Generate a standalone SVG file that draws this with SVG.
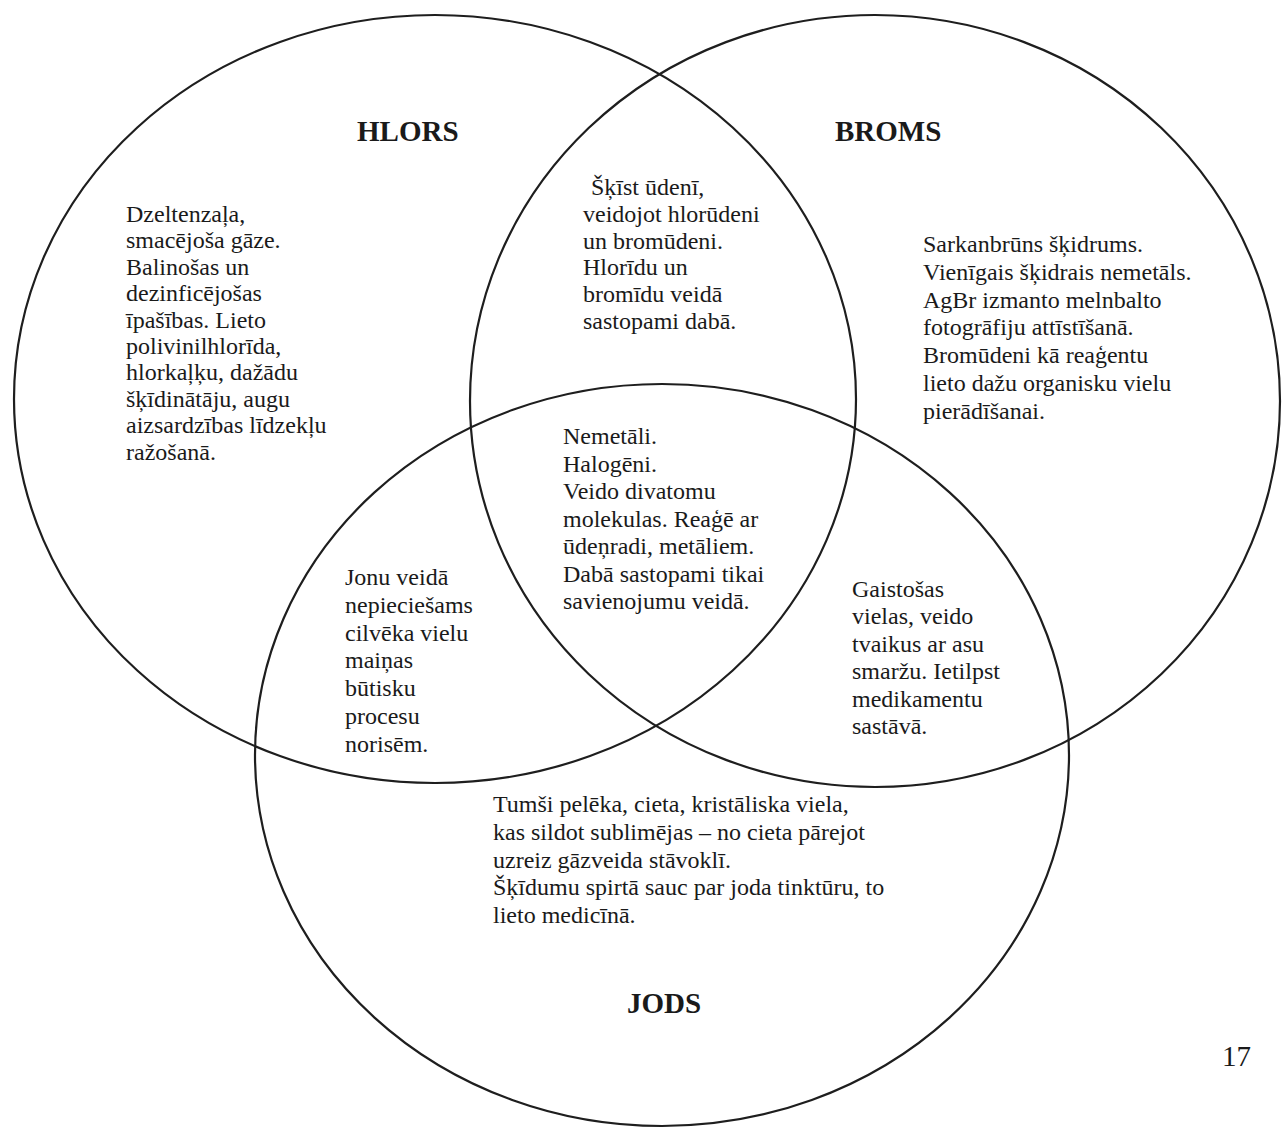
<svg xmlns="http://www.w3.org/2000/svg" width="1282" height="1128" viewBox="0 0 1282 1128">
  <style>
    .ring { fill: none; stroke: #1e1e1e; stroke-width: 2.2; }
    .body { font-family: "Liberation Serif", "Times New Roman", serif; font-size: 24px; fill: #1a1a1a; }
    .title { font-family: "Liberation Serif", "Times New Roman", serif; font-size: 29px; font-weight: bold; fill: #1a1a1a; }
    .page { font-family: "Liberation Serif", "Times New Roman", serif; font-size: 29px; fill: #1a1a1a; }
  </style>
  <rect width="1282" height="1128" fill="#ffffff"/>

  <!-- the three sets -->
  <g id="connectors">
    <ellipse id="ring-hlors" class="ring" cx="435" cy="399" rx="421" ry="384"/>
    <ellipse id="ring-broms" class="ring" cx="875" cy="401" rx="405" ry="386"/>
    <ellipse id="ring-jods" class="ring" cx="662" cy="755" rx="407" ry="371"/>
  </g>

  <!-- set titles -->
  <g id="title-hlors"><text class="title" x="357" y="141">HLORS</text></g>
  <g id="title-broms"><text class="title" x="835" y="141">BROMS</text></g>
  <g id="title-jods"><text class="title" x="627" y="1013">JODS</text></g>

  <!-- chlorine only -->
  <g id="hlors-only">
    <text class="body" x="126" y="222">Dzeltenzaļa,</text>
    <text class="body" x="126" y="248.4">smacējoša gāze.</text>
    <text class="body" x="126" y="274.8">Balinošas un</text>
    <text class="body" x="126" y="301.2">dezinficējošas</text>
    <text class="body" x="126" y="327.6">īpašības. Lieto</text>
    <text class="body" x="126" y="354">polivinilhlorīda,</text>
    <text class="body" x="126" y="380.4">hlorkaļķu, dažādu</text>
    <text class="body" x="126" y="406.8">šķīdinātāju, augu</text>
    <text class="body" x="126" y="433.2">aizsardzības līdzekļu</text>
    <text class="body" x="126" y="459.6">ražošanā.</text>
  </g>

  <!-- chlorine and bromine -->
  <g id="hlors-broms">
    <text class="body" x="591" y="195">Šķīst ūdenī,</text>
    <text class="body" x="583" y="221.8">veidojot hlorūdeni</text>
    <text class="body" x="583" y="248.6">un bromūdeni.</text>
    <text class="body" x="583" y="275.4">Hlorīdu un</text>
    <text class="body" x="583" y="302.2">bromīdu veidā</text>
    <text class="body" x="583" y="329">sastopami dabā.</text>
  </g>

  <!-- bromine only -->
  <g id="broms-only">
    <text class="body" x="923" y="252">Sarkanbrūns šķidrums.</text>
    <text class="body" x="923" y="279.8">Vienīgais šķidrais nemetāls.</text>
    <text class="body" x="923" y="307.6">AgBr izmanto melnbalto</text>
    <text class="body" x="923" y="335.4">fotogrāfiju attīstīšanā.</text>
    <text class="body" x="923" y="363.2">Bromūdeni kā reaģentu</text>
    <text class="body" x="923" y="391">lieto dažu organisku vielu</text>
    <text class="body" x="923" y="418.8">pierādīšanai.</text>
  </g>

  <!-- all three -->
  <g id="all-three">
    <text class="body" x="563" y="444">Nemetāli.</text>
    <text class="body" x="563" y="471.5">Halogēni.</text>
    <text class="body" x="563" y="499">Veido divatomu</text>
    <text class="body" x="563" y="526.5">molekulas. Reaģē ar</text>
    <text class="body" x="563" y="554">ūdeņradi, metāliem.</text>
    <text class="body" x="563" y="581.5">Dabā sastopami tikai</text>
    <text class="body" x="563" y="609">savienojumu veidā.</text>
  </g>

  <!-- chlorine and iodine -->
  <g id="hlors-jods">
    <text class="body" x="345" y="585">Jonu veidā</text>
    <text class="body" x="345" y="612.8">nepieciešams</text>
    <text class="body" x="345" y="640.6">cilvēka vielu</text>
    <text class="body" x="345" y="668.4">maiņas</text>
    <text class="body" x="345" y="696.2">būtisku</text>
    <text class="body" x="345" y="724">procesu</text>
    <text class="body" x="345" y="751.8">norisēm.</text>
  </g>

  <!-- bromine and iodine -->
  <g id="broms-jods">
    <text class="body" x="852" y="597">Gaistošas</text>
    <text class="body" x="852" y="624.4">vielas, veido</text>
    <text class="body" x="852" y="651.8">tvaikus ar asu</text>
    <text class="body" x="852" y="679.2">smaržu. Ietilpst</text>
    <text class="body" x="852" y="706.6">medikamentu</text>
    <text class="body" x="852" y="734">sastāvā.</text>
  </g>

  <!-- iodine only -->
  <g id="jods-only">
    <text class="body" x="493" y="812">Tumši pelēka, cieta, kristāliska viela,</text>
    <text class="body" x="493" y="839.8">kas sildot sublimējas – no cieta pārejot</text>
    <text class="body" x="493" y="867.5">uzreiz gāzveida stāvoklī.</text>
    <text class="body" x="493" y="895.3">Šķīdumu spirtā sauc par joda tinktūru, to</text>
    <text class="body" x="493" y="923">lieto medicīnā.</text>
  </g>

  <!-- page number -->
  <g id="page-number"><text class="page" x="1222" y="1066">17</text></g>
</svg>
